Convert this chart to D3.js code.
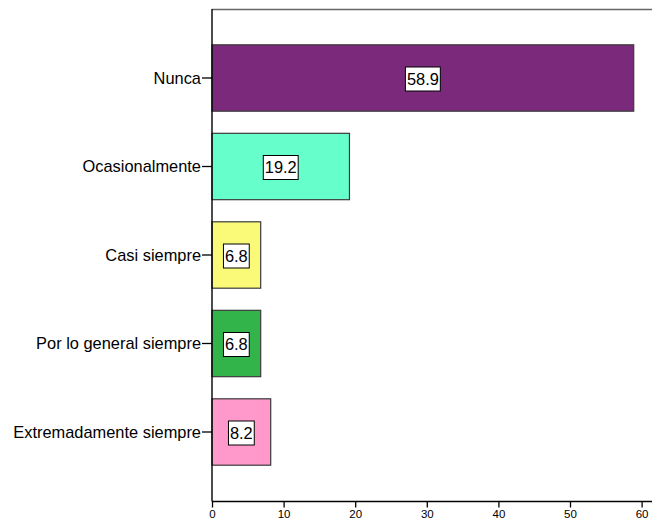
<!DOCTYPE html>
<html><head><meta charset="utf-8">
<script src="https://cdn.jsdelivr.net/npm/d3@7"></script>
<style>body{margin:0;background:#fff}svg{display:block}</style>
</head><body>
<script>
const categories = ["Nunca","Ocasionalmente","Casi siempre","Por lo general siempre","Extremadamente siempre"];
const values = [58.9, 19.2, 6.8, 6.8, 8.2];
const labels = ["58.9","19.2","6.8","6.8","8.2"];
const colors = ["#7B2A7B","#66FFCC","#FAFA78","#33B44A","#FF99CC"];
const xTicks = [0,10,20,30,40,50,60];

(function(){
const W = 652, H = 521;
const pLeft = 212, pTop = 9, pBottom = 501.5;
const font = "Arial, 'Liberation Sans', sans-serif";

const svg = d3.select("body").append("svg").attr("width", W).attr("height", H);

const x = d3.scaleLinear().domain([0, 60]).range([pLeft, 641.6]);
const y = d3.scaleBand().domain(categories).range([33.75, 476.25]).paddingInner(0.25).paddingOuter(0.125);

// frame top
svg.append("line").attr("x1", pLeft).attr("x2", W).attr("y1", pTop + 0.5).attr("y2", pTop + 0.5)
  .attr("stroke", "#666").attr("stroke-width", 1.3);

// bars
svg.selectAll("rect.bar").data(categories).enter().append("rect")
  .attr("class", "bar")
  .attr("x", pLeft)
  .attr("y", d => y(d))
  .attr("width", (d, i) => x(values[i]) - pLeft)
  .attr("height", y.bandwidth())
  .attr("fill", (d, i) => colors[i])
  .attr("stroke", "#3a3a3a").attr("stroke-width", 1.2);

// value labels
const lg = svg.selectAll("g.lab").data(categories).enter().append("g").attr("class", "lab");
lg.each(function(d, i) {
  const g = d3.select(this);
  const cx = (pLeft + x(values[i])) / 2;
  const cy = y(d) + y.bandwidth() / 2 + 1;
  const r = g.append("rect").attr("fill", "#fff").attr("stroke", "#000").attr("stroke-width", 1);
  const t = g.append("text").attr("x", cx).attr("y", cy).attr("dy", "0.36em")
    .attr("text-anchor", "middle").attr("font-family", font).attr("font-size", 16.4)
    .attr("fill", "#000").text(labels[i]);
  const w = t.node().getComputedTextLength() + 3;
  r.attr("x", cx - w / 2).attr("y", cy - 12).attr("width", w).attr("height", 24);
});

// y axis
const yAxis = d3.axisLeft(y).tickSize(10).tickSizeOuter(0).tickPadding(1);
const ya = svg.append("g").attr("transform", `translate(${pLeft},0)`).call(yAxis);
ya.select(".domain").remove();
ya.selectAll("text").attr("font-family", font).attr("font-size", 16.4).attr("fill", "#000").attr("dy", "0.36em");
ya.selectAll("line").attr("stroke", "#000").attr("stroke-width", 1.3);
svg.append("line").attr("x1", pLeft).attr("x2", pLeft).attr("y1", pTop).attr("y2", pBottom)
  .attr("stroke", "#000").attr("stroke-width", 1.4);

// x axis
const xAxis = d3.axisBottom(x).tickValues(xTicks).tickFormat(d3.format("d")).tickSize(6).tickSizeOuter(0).tickPadding(2);
const xa = svg.append("g").attr("transform", `translate(0,${pBottom})`).call(xAxis);
xa.select(".domain").remove();
xa.selectAll("text").attr("font-family", font).attr("font-size", 11.5).attr("fill", "#000");
xa.selectAll("line").attr("stroke", "#000").attr("stroke-width", 1.3);
svg.append("line").attr("x1", pLeft).attr("x2", W).attr("y1", pBottom).attr("y2", pBottom)
  .attr("stroke", "#000").attr("stroke-width", 1.4);
})();
</script>
</body></html>
